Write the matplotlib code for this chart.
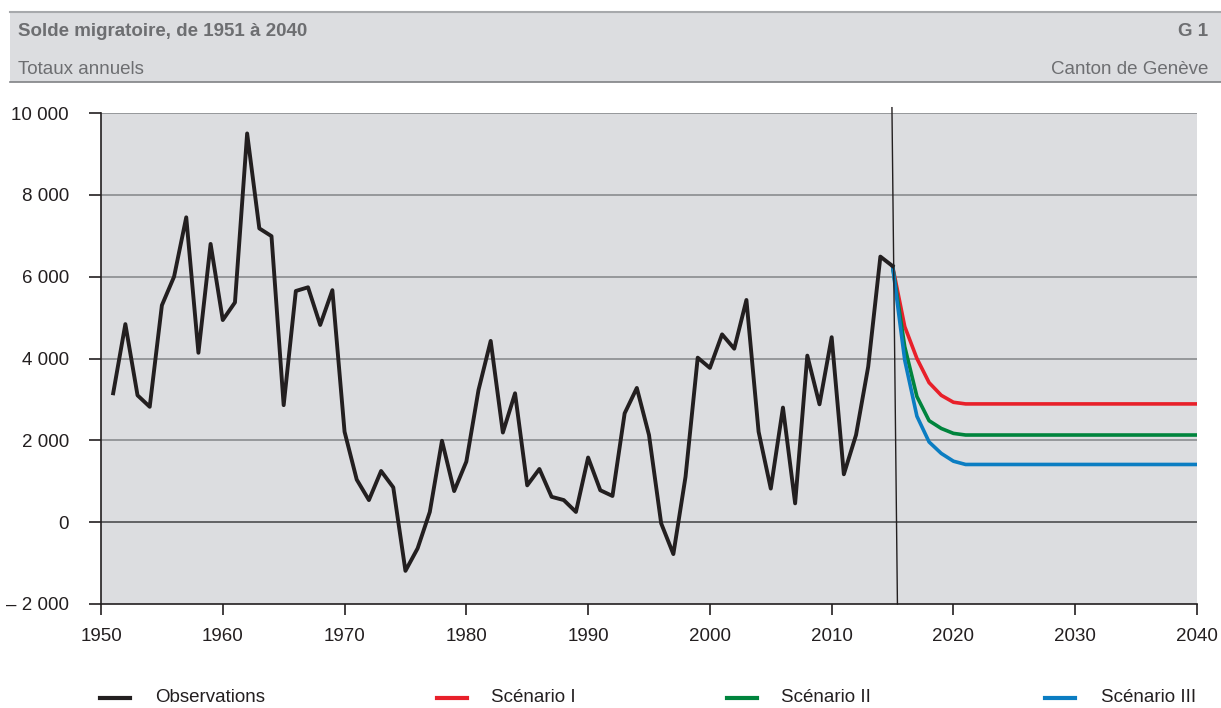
import numpy as np
import matplotlib
matplotlib.use("Agg")
import matplotlib.pyplot as plt
from matplotlib.patches import Rectangle
from matplotlib.lines import Line2D

plt.rcParams['font.family'] = ['Liberation Sans', 'DejaVu Sans']

# observations, solde migratoire annuel
obs_years = list(range(1951, 2016))
obs_values = [3150, 4840, 3100, 2820, 5300, 6000, 7450, 4140, 6800, 4940,
              5370, 9500, 7180, 6990, 2860, 5650, 5740, 4820, 5670, 2210,
              1040, 540, 1250, 850, -1190, -640, 250, 1990, 760, 1480,
              3230, 4430, 2190, 3150, 900, 1300, 620, 540, 250, 1580,
              780, 640, 2660, 3280, 2130, -30, -780, 1110, 4020, 3770,
              4590, 4240, 5430, 2210, 820, 2800, 460, 4070, 2880, 4520,
              1170, 2130, 3800, 6490, 6260]

# scenarios, 2015 -> 2040
scen_years = list(range(2015, 2041))
scen1 = [6260, 4780, 4000, 3410, 3100, 2930] + [2890] * 20
scen2 = [6260, 4290, 3070, 2480, 2290, 2170] + [2130] * 20
scen3 = [6260, 3960, 2590, 1960, 1680, 1490] + [1410] * 20

yticks = [-2000, 0, 2000, 4000, 6000, 8000, 10000]
ytick_labels = ['\u2013 2 000', '0', '2 000', '4 000', '6 000', '8 000', '10 000']
xticks = [1950, 1960, 1970, 1980, 1990, 2000, 2010, 2020, 2030, 2040]

BG = '#dcdde0'
GREY_TXT = '#6d6e71'
BLACK = '#231f20'
RED = '#e8202a'
GREEN = '#00843d'
BLUE = '#0b7dc2'
FS = 13.5

W, H = 1221, 708
fig = plt.figure(figsize=(W / 100, H / 100), dpi=100)

# header band
fig.add_artist(Rectangle((10 / W, 1 - 82 / H), (W - 10) / W, 70 / H,
                         transform=fig.transFigure, facecolor=BG, edgecolor='none'))
fig.add_artist(Line2D([10 / W, 1], [1 - 12 / H] * 2, transform=fig.transFigure,
                      color='#a7a9ac', lw=1.5))
fig.add_artist(Line2D([10 / W, 1], [1 - 82 / H] * 2, transform=fig.transFigure,
                      color='#808285', lw=1.2))
fig.text(18 / W, 1 - 31 / H, 'Solde migratoire, de 1951 à 2040', color=GREY_TXT,
         fontsize=FS, fontweight='bold', va='center', ha='left')
fig.text(1208 / W, 1 - 31 / H, 'G 1', color=GREY_TXT, fontsize=FS,
         fontweight='bold', va='center', ha='right')
fig.text(18 / W, 1 - 70 / H, 'Totaux annuels', color=GREY_TXT, fontsize=FS,
         va='center', ha='left')
fig.text(1208 / W, 1 - 70 / H, 'Canton de Genève', color=GREY_TXT, fontsize=FS,
         va='center', ha='right')

# main axes
ax = fig.add_axes([101 / W, (H - 604) / H, 1096 / W, 491 / H])
ax.set_facecolor(BG)
ax.set_xlim(1950, 2040)
ax.set_ylim(-2000, 10000)

for y in yticks:
    if y == 0:
        ax.axhline(y, color='#4d4d4f', lw=1.2, zorder=1)
    elif y > -2000:
        ax.axhline(y, color='#8a8c8f', lw=1.2, zorder=1)

ax.plot(scen_years, scen1, color=RED, lw=2.6, zorder=3)
ax.plot(scen_years, scen2, color=GREEN, lw=2.6, zorder=3)
ax.plot(scen_years, scen3, color=BLUE, lw=2.6, zorder=3)
ax.plot(obs_years, obs_values, color=BLACK, lw=2.8, zorder=4)

# separation observations / projections
ax.plot([2014.95, 2015.4], [10130, -2000], color=BLACK, lw=1.0, zorder=5, clip_on=False)

for s in ['top', 'right']:
    ax.spines[s].set_visible(False)
ax.spines['left'].set_color(BLACK)
ax.spines['bottom'].set_color(BLACK)
ax.spines['left'].set_linewidth(1.2)
ax.spines['bottom'].set_linewidth(1.2)

ax.set_yticks(yticks)
ax.set_yticklabels(ytick_labels)
ax.set_xticks(xticks)
ax.set_xticklabels([str(x) for x in xticks])
ax.tick_params(axis='y', length=9, width=1.2, color=BLACK, pad=14, labelsize=FS,
               labelcolor=BLACK)
ax.tick_params(axis='x', length=8, width=1.2, color=BLACK, pad=9, labelsize=FS,
               labelcolor=BLACK)

# legend
items = [('Observations', BLACK, 100, 155), ('Scénario I', RED, 437, 491),
         ('Scénario II', GREEN, 727, 781), ('Scénario III', BLUE, 1045, 1101)]
ly = 1 - 698 / H
for label, col, x0, xt in items:
    fig.add_artist(Line2D([x0 / W, (x0 + 30) / W], [ly, ly], transform=fig.transFigure,
                          color=col, lw=3))
    fig.text(xt / W, ly, label, fontsize=FS, color=BLACK, va='center', ha='left')

fig.savefig('out.png', dpi=100)
